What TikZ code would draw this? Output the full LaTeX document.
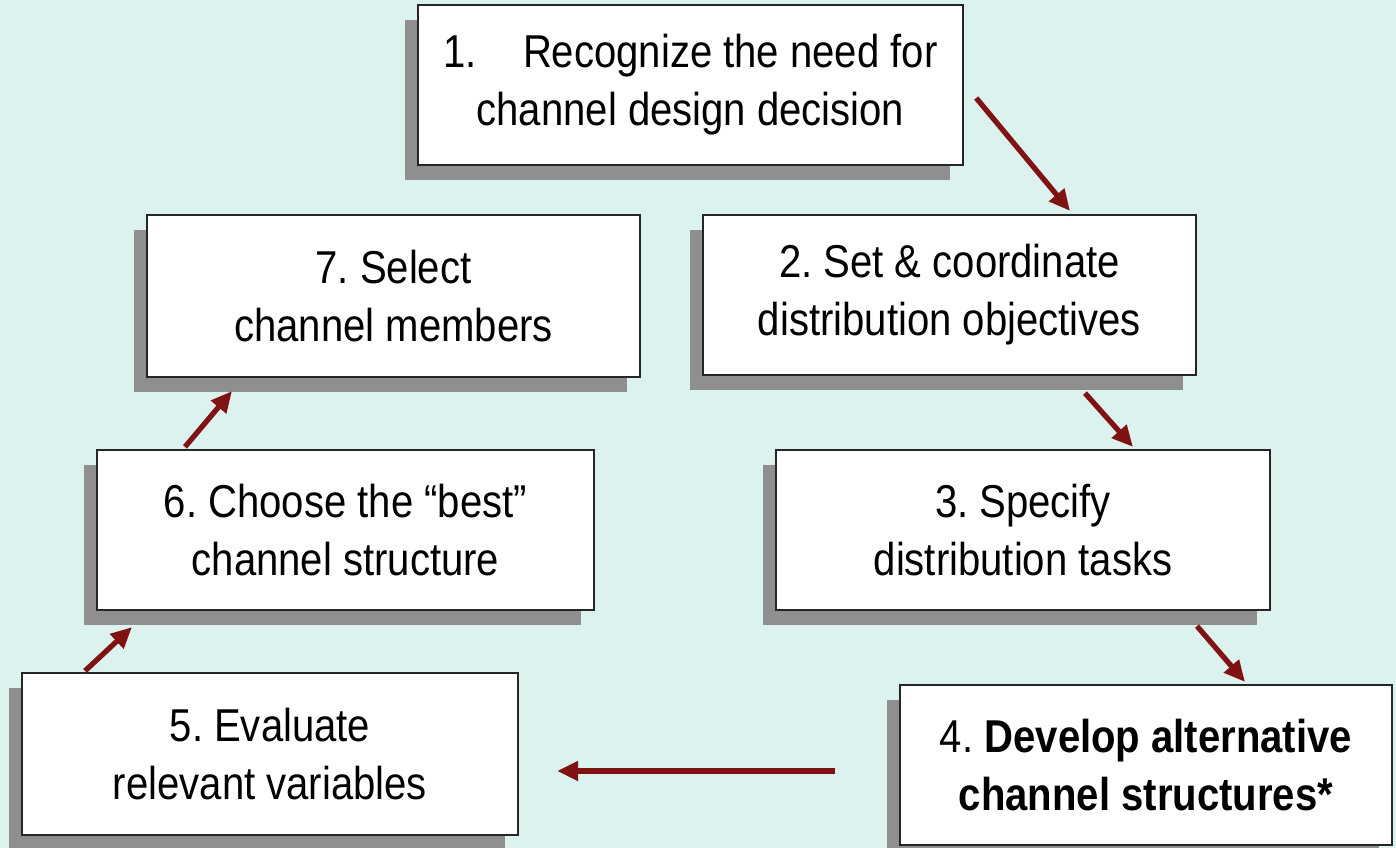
\documentclass[tikz,border=0pt]{standalone}
\usepackage{fontspec}
\setmainfont[FakeStretch=0.87]{Liberation Sans}
\usetikzlibrary{arrows.meta,shadows,calc}
\definecolor{bgcyan}{RGB}{219,242,239}
\definecolor{arrowred}{RGB}{128,18,18}
\frenchspacing

\begin{document}
\begin{tikzpicture}[
        x=0.01cm, y=-0.01cm,
        stepbox/.style={rectangle, draw=black!85, line width=0.6pt, fill=white, align=center, inner sep=0pt,
            font=\fontsize{13.1}{16.5}\selectfont,
            drop shadow={shadow xshift=-0.13cm, shadow yshift=-0.15cm, fill=black!44, opacity=1}},
        flow/.style={-{Triangle[length=2.1mm, width=1.9mm]}, line width=1.5pt, draw=arrowred}
    ]
        % Background
        \fill[bgcyan] (0,0) rectangle (1396,848);
        \useasboundingbox (0,0) rectangle (1396,848);

        % Steps of the design process
        \node[stepbox, minimum width=5.45cm, minimum height=1.6cm] (recognize) at (690.5,85) {1.\quad Recognize the need for\\channel design decision};
        \node[stepbox, minimum width=4.93cm, minimum height=1.6cm] (objectives) at (949.5,295) {2. Set \& coordinate\\distribution objectives};
        \node[stepbox, minimum width=4.94cm, minimum height=1.6cm] (tasks) at (1023,530) {3. Specify\\distribution tasks};
        \node[stepbox, minimum width=4.92cm, minimum height=1.6cm] (develop) at (1146,765) {4. \textbf{Develop alternative}\\\textbf{channel structures*}};
        \node[stepbox, minimum width=4.96cm, minimum height=1.62cm] (evaluate) at (270,754) {5. Evaluate\\relevant variables};
        \node[stepbox, minimum width=4.97cm, minimum height=1.6cm] (choose) at (345.5,530) {6. Choose the ``best''\\channel structure};
        \node[stepbox, minimum width=4.93cm, minimum height=1.62cm] (select) at (393.5,296) {7. Select\\channel members};

        % Connections
        \draw[flow] ($(recognize.east)+(12,13)$) -- ($(objectives.north)+(120.5,-3)$);
        \draw[flow] ($(objectives.south)+(135.5,17)$) -- ($(tasks.north)+(110,-2)$);
        \draw[flow] ($(tasks.south)+(174,15)$) -- ($(develop.north)+(99,-2)$);
        \draw[flow] ($(develop.west)+(-64,6)$) -- ($(evaluate.east)+(38,17)$);
        \draw[flow] ($(evaluate.north)+(-185,-1)$) -- ($(choose.south)+(-213.5,16)$);
        \draw[flow] ($(choose.north)+(-160.5,-2)$) -- ($(select.south)+(-161.5,13)$);

    \end{tikzpicture}
\end{document}
